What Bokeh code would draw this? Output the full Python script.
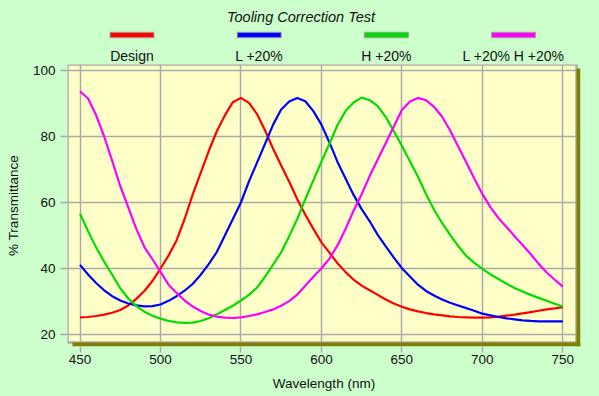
from bokeh.plotting import figure
from bokeh.layouts import column
from bokeh.models import ColumnDataSource, Range1d, FixedTicker, GlobalInlineStyleSheet
from bokeh.core.properties import value
from bokeh.embed import file_html
from bokeh.resources import INLINE

# ---------------- data ----------------
wavelength = list(range(450, 755, 5))

design = [
    25.2, 25.3, 25.6, 26.0, 26.6, 27.4, 28.8, 30.8, 33.2, 36.2,
    40.0, 43.9, 48.5, 55.0, 62.4, 69.0, 75.6, 81.6, 86.4, 90.4,
    91.7, 90.2, 86.8, 81.8, 76.3, 71.2, 66.3, 61.0, 56.3, 52.0,
    47.9, 44.8, 41.6, 38.9, 36.6, 34.8, 33.4, 32.0, 30.6, 29.4,
    28.4, 27.6, 27.0, 26.5, 26.1, 25.8, 25.5, 25.3, 25.2, 25.1,
    25.1, 25.2, 25.4, 25.7, 26.0, 26.4, 26.8, 27.2, 27.6, 27.9,
    28.3,
]
l_plus20 = [
    41.1, 38.2, 35.6, 33.4, 31.6, 30.3, 29.4, 28.8, 28.5, 28.6,
    29.1, 30.2, 31.6, 33.3, 35.3, 38.1, 41.3, 45.0, 50.0, 55.0,
    60.0, 66.4, 72.1, 77.8, 83.6, 88.2, 90.6, 91.7, 90.7, 87.7,
    83.6, 78.2, 72.3, 67.3, 62.3, 58.0, 54.3, 50.2, 46.7, 43.3,
    40.1, 37.6, 35.1, 33.2, 31.8, 30.6, 29.6, 28.8, 28.0, 27.2,
    26.3, 25.8, 25.3, 24.9, 24.6, 24.3, 24.1, 24.0, 24.0, 24.0,
    24.0,
]
h_plus20 = [
    56.6, 51.3, 46.4, 42.1, 38.1, 34.0, 30.9, 28.6, 26.9, 25.7,
    24.8, 24.1, 23.7, 23.5, 23.6, 24.1, 24.9, 26.1, 27.4, 28.7,
    30.3, 32.0, 34.2, 37.5, 41.2, 44.9, 49.8, 55.0, 61.0, 66.7,
    72.4, 77.8, 83.5, 87.7, 90.3, 91.8, 91.0, 89.2, 85.9, 81.6,
    77.2, 72.5, 67.8, 62.6, 57.8, 53.8, 50.2, 46.8, 43.8, 41.7,
    39.9, 38.2, 36.8, 35.4, 34.1, 33.0, 32.0, 31.1, 30.2, 29.3,
    28.5,
]
lh_plus20 = [
    93.7, 91.5, 86.5, 80.0, 72.6, 65.0, 58.5, 52.0, 46.5, 42.8,
    39.0, 35.1, 32.6, 30.3, 28.5, 27.1, 26.0, 25.4, 25.1, 25.0,
    25.2, 25.6, 26.1, 26.8, 27.6, 28.7, 30.1, 32.1, 34.8, 37.5,
    40.0, 43.0, 47.0, 52.0, 57.5, 62.5, 68.0, 73.0, 78.0, 83.0,
    88.0, 90.6, 91.7, 91.0, 89.0, 86.0, 81.8, 77.0, 72.2, 67.3,
    62.6, 58.6, 55.3, 52.6, 49.8, 47.1, 44.4, 41.4, 38.8, 36.6,
    34.5,
]

series_names = ["Design", "L +20%", "H +20%", "L +20% H +20%"]
series_colors = ["#ff0000", "#0000ff", "#00dd00", "#ff00ff"]
x_ticks = [450, 500, 550, 600, 650, 700, 750]
y_ticks = [20, 40, 60, 80, 100]
title_text = "Tooling Correction Test"
x_label = "Wavelength (nm)"
y_label = "% Transmittance"

# ---------------- style ----------------
BG = "#ccffcc"
PLOT_BG = "#ffffc8"
SHADOW = "#808000"
GRID = "#aaaaaa"
TXT = "#111111"
FONT = "Liberation Sans"
W = 599
HEAD_H = 64
MAIN_H = 332
BL, BR, BB = 67, 19, 50

X0, X1 = 442.23, 761.0
Y0, Y1 = 16.36, 101.82
frame_w = W - BL - BR
frame_h = MAIN_H - BB
sx = frame_w / (X1 - X0)   # px per nm
sy = frame_h / (Y1 - Y0)   # px per %

css = GlobalInlineStyleSheet(css="html,body{margin:0;padding:0;background:%s;overflow:hidden;}" % BG)

# ---------------- header (title + legend) ----------------
# the column aligns this figure's frame with the main frame, so map pixels directly
h = figure(width=W, height=HEAD_H, x_range=Range1d(BL, W - BR), y_range=Range1d(HEAD_H, 0),
           output_backend="svg", toolbar_location=None, min_border=0,
           x_axis_type=None, y_axis_type=None,
           background_fill_color=BG, border_fill_color=BG, outline_line_color=None)
h.xgrid.visible = False
h.ygrid.visible = False

h.text(x=[W / 2 + 1], y=[16], text=[title_text], text_align="center", text_baseline="alphabetic",
       text_font=value(FONT), text_font_style="italic", text_font_size="14.5px", text_color=TXT)

leg_x = [131.5 + i * 127.2 for i in range(len(series_names))]
leg_src = ColumnDataSource(dict(x=leg_x, name=series_names, color=series_colors))
h.rect(x="x", y=34.5, width=44, height=5.5, fill_color="color", line_color="#a0a0a0",
       line_width=1, source=leg_src)
h.text(x="x", y=55.5, text="name", text_align="center", text_baseline="alphabetic",
       text_font=value(FONT), text_font_size="14px", text_color=TXT, source=leg_src)

# ---------------- main plot ----------------
p = figure(width=W, height=MAIN_H, x_range=Range1d(X0, X1), y_range=Range1d(Y0, Y1),
           output_backend="svg", toolbar_location=None,
           min_border_left=BL, min_border_right=BR, min_border_top=0, min_border_bottom=BB,
           background_fill_color=BG, border_fill_color=BG, outline_line_color=None)

# plot area (yellow) with an olive drop shadow on the right and bottom
x_pr = X0 + 509 / sx      # right edge of the yellow area
y_pb = Y1 - 278 / sy      # bottom edge of the yellow area
yr = p.quad(left=[X0], right=[x_pr], top=[Y1], bottom=[y_pb],
            fill_color=PLOT_BG, line_color=GRID, line_width=2.5)
yr.level = "image"
p.quad(left=[x_pr], right=[X1], top=[Y1 - 4 / sy], bottom=[Y0],
       fill_color=SHADOW, line_color=None)
p.quad(left=[X0 + 5 / sx], right=[X1], top=[y_pb], bottom=[Y0],
       fill_color=SHADOW, line_color=None)

src = ColumnDataSource(dict(wl=wavelength, d=design, l=l_plus20, hh=h_plus20, lh=lh_plus20))
for col, c in zip(["d", "l", "hh", "lh"], series_colors):
    p.line(x="wl", y=col, source=src, line_color=c, line_width=2.2)

p.xaxis.ticker = FixedTicker(ticks=x_ticks)
p.yaxis.ticker = FixedTicker(ticks=y_ticks)
p.xgrid.ticker = FixedTicker(ticks=x_ticks)
p.ygrid.ticker = FixedTicker(ticks=y_ticks)
p.grid.grid_line_color = GRID
p.grid.grid_line_width = 1.5

for ax in (p.xaxis, p.yaxis):
    ax.axis_line_color = None
    ax.major_tick_line_color = GRID
    ax.major_tick_line_width = 1.5
    ax.major_tick_in = 0
    ax.minor_tick_line_color = None
    ax.major_label_text_font = FONT
    ax.major_label_text_font_size = "13.5px"
    ax.major_label_text_color = TXT
    ax.axis_label_text_font = FONT
    ax.axis_label_text_font_size = "13.5px"
    ax.axis_label_text_font_style = "normal"
    ax.axis_label_text_color = TXT

p.xaxis.major_tick_out = 6
p.yaxis.major_tick_out = 7
p.xaxis.major_label_standoff = 2
p.yaxis.major_label_standoff = 5
p.xaxis.axis_label = x_label
p.yaxis.axis_label = y_label
p.xaxis.axis_label_standoff = 9
p.yaxis.axis_label_standoff = 9

layout = column(h, p, spacing=0, stylesheets=[css])

open("out.html", "w").write(file_html(layout, INLINE))
